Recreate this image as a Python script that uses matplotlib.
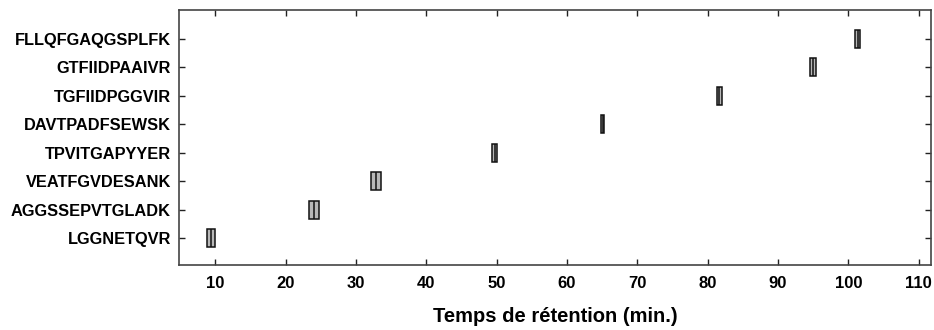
import matplotlib
matplotlib.use("Agg")
import matplotlib.pyplot as plt
from matplotlib import font_manager

peptides = ["LGGNETQVR", "AGGSSEPVTGLADK", "VEATFGVDESANK", "TPVITGAPYYER",
            "DAVTPADFSEWSK", "TGFIIDPGGVIR", "GTFIIDPAAIVR", "FLLQFGAQGSPLFK"]
q1 = [8.78, 23.37, 32.15, 49.36, 64.82, 81.32, 94.60, 100.95]
median = [9.35, 24.08, 32.85, 49.70, 65.10, 81.65, 94.98, 101.30]
q3 = [9.91, 24.79, 33.57, 50.01, 65.33, 81.97, 95.35, 101.70]
xticks = [10, 20, 30, 40, 50, 60, 70, 80, 90, 100, 110]

names = {f.name for f in font_manager.fontManager.ttflist}
narrow = "Liberation Sans Narrow" if "Liberation Sans Narrow" in names else "Liberation Sans"

fig = plt.figure(figsize=(9.34, 3.30), dpi=100)
ax = fig.add_axes([0.192, 0.196, 0.8045, 0.774])

stats = []
for name, a, m, b in zip(peptides, q1, median, q3):
    stats.append(dict(label=name, q1=a, med=m, q3=b, whislo=a, whishi=b, fliers=[]))

positions = list(range(1, len(peptides) + 1))
ax.bxp(stats, positions=positions, vert=False, widths=0.63, patch_artist=True,
       showcaps=False, showfliers=False,
       boxprops=dict(facecolor="#b8b8b8", edgecolor="#111111", linewidth=1.1),
       medianprops=dict(color="#111111", linewidth=1.1),
       whiskerprops=dict(color="#111111", linewidth=1.1))

ax.set_xlim(4.9, 111.7)
ax.set_ylim(0.05, 9.02)
ax.set_xticks(xticks)
ax.set_xticklabels([str(v) for v in xticks], fontfamily=narrow,
                   fontweight="bold", fontsize=12)
ax.set_yticks(positions)
ax.set_yticklabels(peptides, fontfamily="Liberation Sans", fontweight="bold",
                   fontsize=11.8)

ax.tick_params(axis="both", which="both", direction="in", length=4, width=1,
               color="#222222", top=True, right=True)
ax.tick_params(axis="x", pad=8)
ax.tick_params(axis="y", pad=6)
for s in ax.spines.values():
    s.set_color("#444444")
    s.set_linewidth(1.2)

ax.set_xlabel("Temps de rétention (min.)", fontfamily=narrow, fontweight="bold",
              fontsize=14.5, labelpad=11)

fig.savefig("out.png", dpi=100)
